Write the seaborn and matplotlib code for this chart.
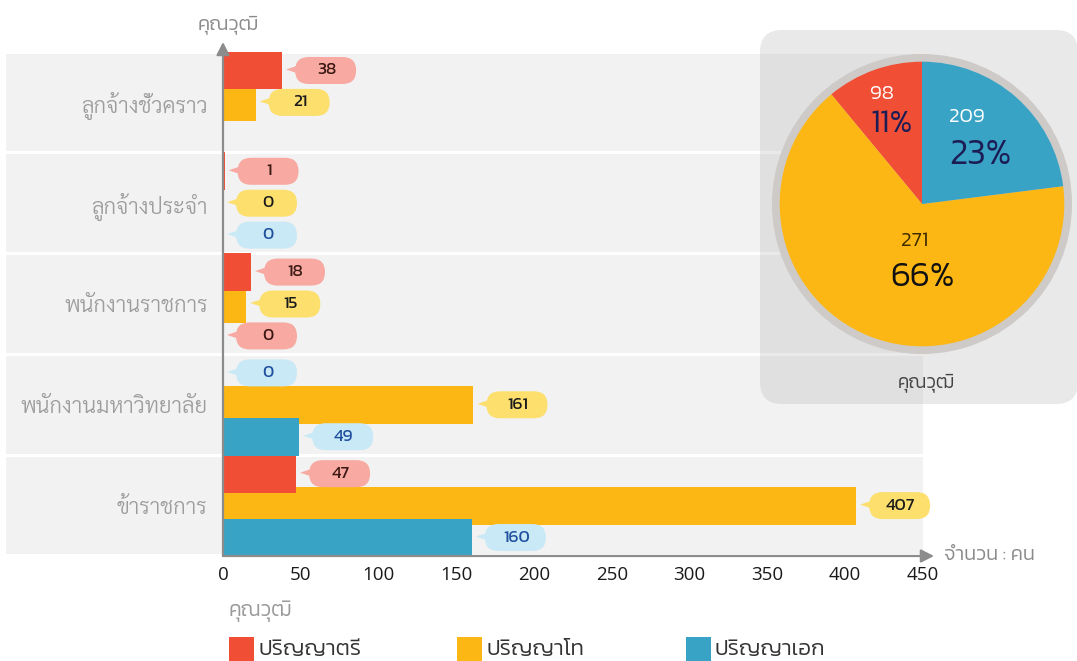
import numpy as np
import pandas as pd
import matplotlib
matplotlib.use("Agg")
import matplotlib.pyplot as plt
import seaborn as sns
from matplotlib.patches import FancyBboxPatch, Rectangle, Polygon, Circle
from matplotlib.transforms import IdentityTransform
from matplotlib.colors import to_rgba

# ---------------- data ----------------
categories = ["ลูกจ้างชั่วคราว", "ลูกจ้างประจำ", "พนักงานราชการ", "พนักงานมหาวิทยาลัย", "ข้าราชการ"]
series = ["ปริญญาตรี", "ปริญญาโท", "ปริญญาเอก"]
bachelor = [38, 1, 18, 0, 47]
master = [21, 0, 15, 161, 407]
doctor = [np.nan, 0, 0, 49, 160]
x_ticks = [0, 50, 100, 150, 200, 250, 300, 350, 400, 450]
pie_counts = [98, 271, 209]
pie_percent = [11, 66, 23]
# bubbles whose colour follows another series in the reference
label_swaps = {("พนักงานราชการ", "ปริญญาเอก"): "ปริญญาตรี",
               ("พนักงานมหาวิทยาลัย", "ปริญญาตรี"): "ปริญญาเอก"}
axis_title = "คุณวุฒิ"
x_unit = "จำนวน : คน"

# ---------------- style ----------------
W, H, DPI = 1077, 661, 100
bar_colors = {"ปริญญาตรี": "#F04F36", "ปริญญาโท": "#FDB714", "ปริญญาเอก": "#38A3C5"}
pill_colors = {"ปริญญาตรี": "#F8A9A1", "ปริญญาโท": "#FCDF6D", "ปริญญาเอก": "#C9E9F6"}
pill_text = {"ปริญญาตรี": "#3a1712", "ปริญญาโท": "#1a1a1a", "ปริญญาเอก": "#1f4f9e"}
GRAY = "#8c8c8c"

sns.set_theme(style="white")
plt.rcParams["font.family"] = ["Kanit", "DejaVu Sans"]
THAI_UI = ["Kanit", "DejaVu Sans"]
THAI_LOOP = ["Sarabun", "DejaVu Sans"]

rows = []
for s, vals in zip(series, [bachelor, master, doctor]):
    for c, v in zip(categories, vals):
        if not np.isnan(v):
            rows.append((c, s, float(v)))
df = pd.DataFrame(rows, columns=["category", "series", "value"])

fig = plt.figure(figsize=(W / DPI, H / DPI), dpi=DPI)
fig.patch.set_facecolor("white")
ax_left, ax_right, ax_top, ax_bottom = 223, 923, 52, 556
ax = fig.add_axes([ax_left / W, (H - ax_bottom) / H, (ax_right - ax_left) / W, (ax_bottom - ax_top) / H])
ax.set_facecolor("none")

sns.barplot(data=df, x="value", y="category", hue="series", order=categories, hue_order=series,
            palette=bar_colors, orient="h", width=0.95, dodge=True, saturation=1,
            errorbar=None, legend=False, ax=ax)

ax.set_xlim(0, 450)
ax.set_ylim(len(categories) - 0.5, -0.5)
ax.set_xticks(x_ticks)
ax.set_xticklabels([str(t) for t in x_ticks])
ax.set_xlabel("")
ax.set_ylabel("")
for s in ax.spines.values():
    s.set_visible(False)
ax.grid(False)

# background bands
band_xmin = -(ax_left - 6) / (ax_right - ax_left)
for i in range(len(categories)):
    ax.axhspan(i - 0.485, i + 0.485, xmin=band_xmin, xmax=1, color="#F2F2F2", zorder=0, clip_on=False, lw=0)

# tick styling
ax.tick_params(axis="x", length=0, pad=7, labelsize=13.5, labelcolor="#1a1a1a")
ax.tick_params(axis="y", length=0, pad=11, labelsize=15.8, labelcolor="#9d9d9d")
for t in ax.get_xticklabels():
    t.set_fontfamily(["Open Sans", "DejaVu Sans"])
for t in ax.get_yticklabels():
    t.set_fontfamily(THAI_LOOP)
    t.set_fontweight(300)

# axis arrows
arrow_kw = dict(arrowstyle="-|>,head_length=0.55,head_width=0.28", color=GRAY, lw=1.6,
                mutation_scale=14, shrinkA=0, shrinkB=0)
ax.annotate("", xy=(0, 1 + 10 / (ax_bottom - ax_top)), xytext=(0, 0), xycoords="axes fraction",
            arrowprops=arrow_kw, annotation_clip=False, zorder=5)
ax.annotate("", xy=(1 + 11 / (ax_right - ax_left), 0), xytext=(0, 0), xycoords="axes fraction",
            arrowprops=arrow_kw, annotation_clip=False, zorder=5)

# bars: slightly taller than their slot, as in the reference; bubbles
ident = IdentityTransform()
col_lookup = {s: to_rgba(c) for s, c in bar_colors.items()}
value_lookup = {s: v for s, v in zip(series, [bachelor, master, doctor])}
bubbles = []
for bar in ax.patches:
    if not isinstance(bar, Rectangle) or bar.get_height() > 0.5:
        continue
    fc = bar.get_facecolor()
    ser = None
    for s, c in col_lookup.items():
        if np.allclose(fc[:3], c[:3], atol=0.01):
            ser = s
    if ser is None:
        continue
    cy = bar.get_y() + bar.get_height() / 2
    bar.set_y(cy - 0.188)
    bar.set_height(0.376)
    bar.set_zorder(2 if ser == "ปริญญาโท" else 3)
    bar.set_linewidth(0)
    ci = int(round(cy))
    val = value_lookup[ser][ci]
    if np.isnan(val):
        continue
    bubbles.append((ci, ser, val, bar.get_width(), cy))

for ci, ser, val, width, cy in bubbles:
    lab_ser = label_swaps.get((categories[ci], ser), ser)
    ex, ey = ax.transData.transform((width, cy))
    left = ex + 13
    pw, ph = 61, 27
    fig.add_artist(FancyBboxPatch((left, ey - ph / 2), pw, ph,
                                  boxstyle="round,pad=0,rounding_size=13.5",
                                  fc=pill_colors[lab_ser], ec="none", transform=ident, zorder=3))
    fig.add_artist(Polygon([(left - 9, ey + 1), (left + 3, ey + 5), (left + 3, ey - 3)], closed=True,
                           fc=pill_colors[lab_ser], ec="none", transform=ident, zorder=3))
    fig.text(left + pw / 2 + 1, ey, f"{int(val)}", transform=ident, ha="center", va="center",
             fontsize=12.5, color=pill_text[lab_ser], family=THAI_UI, fontweight=400, zorder=4)

# titles around the axes
fig.text(228 / W, 1 - 25 / H, axis_title, ha="center", va="center", fontsize=14.5, color=GRAY,
         family=THAI_UI, fontweight=300)
fig.text(944 / W, 1 - 555 / H, x_unit, ha="left", va="center", fontsize=14.5, color=GRAY,
         family=THAI_UI, fontweight=300)

# legend (bottom)
fig.text(229 / W, 1 - 611 / H, axis_title, ha="left", va="center", fontsize=15, color="#9a9a9a",
         family=THAI_UI, fontweight=300)
leg_x = [229, 457, 686]
for lx, s in zip(leg_x, series):
    fig.add_artist(Rectangle((lx, 0), 25, 24, fc=bar_colors[s], ec="none", transform=ident))
    fig.text((lx + 29) / W, 1 - 649 / H, s, ha="left", va="center", fontsize=16, color="#333333",
             family=THAI_UI, fontweight=300)

# pie panel
fig.add_artist(FancyBboxPatch((760, H - 404), 318, 374, boxstyle="round,pad=0,rounding_size=22",
                              fc="#B8B8B8", alpha=0.31, ec="none", transform=ident, zorder=1))
R_PX = 142.3
half = 160
pcx, pcy = 922, 204
pax = fig.add_axes([(pcx - half) / W, (H - pcy - half) / H, 2 * half / W, 2 * half / H])
pax.set_zorder(2)
pax.add_patch(Circle((0, 0), 150 / R_PX, fc="#CDCAC8", ec="none"))
pax.pie(pie_percent, colors=[bar_colors[s] for s in series], startangle=90, counterclock=True,
        radius=1, wedgeprops=dict(linewidth=0))
pax.set_xlim(-half / R_PX, half / R_PX)
pax.set_ylim(-half / R_PX, half / R_PX)
pax.set_aspect("equal")
pax.axis("off")

pie_label_layout = [  # (dx, dy_count, dy_pct, ha, count colour, pct colour, pct size)
    (-0.365, 0.77, 0.56, "left", "white", "#1d1d55", 23),
    (-0.05, -0.26, -0.52, "center", "#3d2a00", "#111111", 25),
    (0.19, 0.61, 0.34, "left", "white", "#1d1d55", 26),
]
for cnt, pct, (dx, dyc, dyp, ha, cc, pc, ps) in zip(pie_counts, pie_percent, pie_label_layout):
    pax.text(dx, dyc, f"{cnt}", ha=ha, va="center", fontsize=15, color=cc, family=THAI_UI, fontweight=300)
    pax.text(dx if ha == "left" else 0, dyp, f"{pct}%", ha=ha, va="center", fontsize=ps, color=pc,
             family=THAI_UI, fontweight=300)

fig.text(926 / W, 1 - 383 / H, axis_title, ha="center", va="center", fontsize=13.5, color="#444444",
         family=THAI_UI, fontweight=300)

fig.savefig("out.png", dpi=DPI, facecolor="white")
